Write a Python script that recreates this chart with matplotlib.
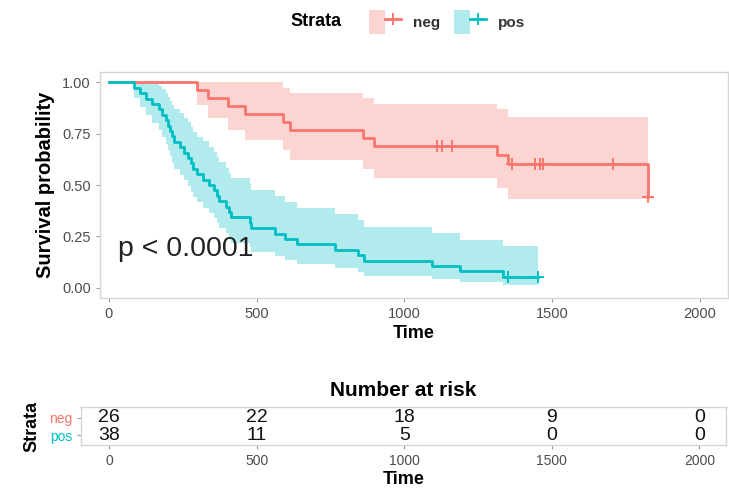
import matplotlib
matplotlib.use("Agg")
import matplotlib.pyplot as plt
import numpy as np
from matplotlib.patches import Patch
from matplotlib.lines import Line2D
from matplotlib.legend_handler import HandlerTuple

plt.rcParams['font.family'] = ['Liberation Sans', 'DejaVu Sans']

# ---------------- data ----------------
RED = "#F8766D"
BLUE = "#00BFC4"

# neg stratum: step times, survival and 95% band
neg_time = [0, 298, 335, 402, 460, 589, 612, 860, 897, 1313, 1350, 1824]
neg_surv = [1.0, 0.962, 0.923, 0.885, 0.846, 0.808, 0.769, 0.731, 0.692, 0.646, 0.600, 0.44]
neg_low = [1.0, 0.890, 0.826, 0.770, 0.718, 0.670, 0.623, 0.579, 0.536, 0.484, 0.434, 0.44]
neg_up = [1.0, 1.0, 1.0, 1.0, 1.0, 0.974, 0.949, 0.923, 0.894, 0.868, 0.830, 0.44]
neg_cens = [1110, 1127, 1161, 1364, 1441, 1458, 1469, 1706, 1824]

# pos stratum
pos_time = [0, 85, 105, 125, 146, 169, 179, 193, 200, 206, 213, 220, 240, 254, 267,
            277, 284, 298, 318, 338, 355, 365, 372, 396, 406, 413, 477, 481, 562,
            596, 636, 765, 843, 863, 1093, 1188, 1333, 1452]
pos_surv = [1.000, 0.974, 0.947, 0.921, 0.895, 0.868, 0.842, 0.816, 0.789, 0.763,
            0.737, 0.711, 0.684, 0.658, 0.632, 0.605, 0.579, 0.553, 0.526, 0.500,
            0.474, 0.447, 0.421, 0.395, 0.368, 0.342, 0.316, 0.289, 0.263, 0.237,
            0.211, 0.184, 0.158, 0.132, 0.105, 0.079, 0.053, 0.053]
pos_low = [1.000, 0.924, 0.879, 0.839, 0.802, 0.767, 0.734, 0.701, 0.670, 0.639,
           0.609, 0.580, 0.551, 0.523, 0.495, 0.468, 0.441, 0.415, 0.389, 0.364,
           0.339, 0.314, 0.290, 0.266, 0.243, 0.220, 0.198, 0.176, 0.155, 0.134,
           0.114, 0.094, 0.076, 0.058, 0.042, 0.027, 0.014, 0.014]
pos_up = [1.000, 1.000, 1.000, 1.000, 0.998, 0.983, 0.966, 0.949, 0.930, 0.911,
          0.891, 0.870, 0.849, 0.827, 0.805, 0.782, 0.759, 0.736, 0.712, 0.687,
          0.662, 0.637, 0.611, 0.585, 0.559, 0.532, 0.504, 0.476, 0.448, 0.419,
          0.390, 0.360, 0.329, 0.298, 0.266, 0.234, 0.203, 0.203]
pos_cens = [1350, 1452]

risk_times = [0, 500, 1000, 1500, 2000]
risk_neg = [26, 22, 18, 9, 0]
risk_pos = [38, 11, 5, 0, 0]
strata = ["neg", "pos"]


def surv_at(times, surv, t):
    idx = np.searchsorted(times, t, side="right") - 1
    return np.asarray(surv)[idx]


W, H = 729, 494
fig = plt.figure(figsize=(W / 100, H / 100), dpi=100)

# ---------------- survival curves ----------------
ax = fig.add_axes([100 / W, 1 - 298 / H, 628 / W, 226 / H])
for t, s, lo, up, cens, col in [
    (neg_time, neg_surv, neg_low, neg_up, neg_cens, RED),
    (pos_time, pos_surv, pos_low, pos_up, pos_cens, BLUE),
]:
    ax.fill_between(t, lo, up, step="post", color=col, alpha=0.3, lw=0)
    ax.step(t, s, where="post", color=col, lw=2)
    ax.plot(cens, surv_at(t, s, cens), ls="none", marker="+", ms=8, mew=1.4, color=col)

ax.text(30, 0.19, "p < 0.0001", fontsize=20.5, va="center", ha="left", color="#222222")

ax.set_xlim(-30, 2095)
ax.set_ylim(-0.05, 1.05)
ax.set_xticks(risk_times)
ax.set_yticks([0, 0.25, 0.5, 0.75, 1.0])
ax.set_yticklabels(["0.00", "0.25", "0.50", "0.75", "1.00"])
ax.tick_params(labelsize=10.5, labelcolor="#4D4D4D", color="#9A9A9A", length=3)
for sp in ax.spines.values():
    sp.set_color("#D6D6D6")
    sp.set_linewidth(1)
ax.set_xlabel("Time", fontsize=13, fontweight="bold", labelpad=3)
ax.set_ylabel("Survival probability", fontsize=14.5, fontweight="bold", labelpad=5)

# ---------------- legend ----------------
fig.text(290 / W, 1 - 22 / H, "Strata", fontsize=13, fontweight="bold", va="center", ha="left")
handles = [
    (Patch(facecolor=RED, alpha=0.3, lw=0), Line2D([], [], color=RED, lw=2, marker="+", ms=9, mew=1.4)),
    (Patch(facecolor=BLUE, alpha=0.3, lw=0), Line2D([], [], color=BLUE, lw=2, marker="+", ms=9, mew=1.4)),
]
leg = fig.legend(handles, strata, ncol=2, loc="center left", bbox_to_anchor=(355 / W, 1 - 22 / H),
                 frameon=False, fontsize=11, handlelength=2.1, handleheight=2.0,
                 handletextpad=0.8, columnspacing=0.9,
                 handler_map={tuple: HandlerTuple(ndivide=None, pad=0)})
for txt in leg.get_texts():
    txt.set_fontweight("bold")
    txt.set_color("#333333")

# ---------------- risk table ----------------
tb = fig.add_axes([81 / W, 1 - 445 / H, 645 / W, 38 / H])
tb.set_xlim(-95, 2090)
tb.set_ylim(0, 1)
row_y = [0.72, 0.26]
for y, vals in zip(row_y, [risk_neg, risk_pos]):
    for t, v in zip(risk_times, vals):
        tb.text(t, y, str(v), fontsize=14, ha="center", va="center", color="#111111")
tb.set_xticks(risk_times)
tb.set_yticks(row_y)
tb.set_yticklabels(strata)
for lab, col in zip(tb.get_yticklabels(), [RED, BLUE]):
    lab.set_color(col)
tb.tick_params(axis="x", labelsize=10, labelcolor="#4D4D4D", color="#9A9A9A", length=3)
tb.tick_params(axis="y", labelsize=10, color="#9A9A9A", length=3)
for sp in tb.spines.values():
    sp.set_color("#D6D6D6")
    sp.set_linewidth(1)
tb.set_xlabel("Time", fontsize=13, fontweight="bold", labelpad=2)
tb.set_ylabel("Strata", fontsize=13, fontweight="bold", labelpad=6)
tb.set_title("Number at risk", fontsize=15, fontweight="bold", pad=8)

fig.savefig("out.png", dpi=100)
